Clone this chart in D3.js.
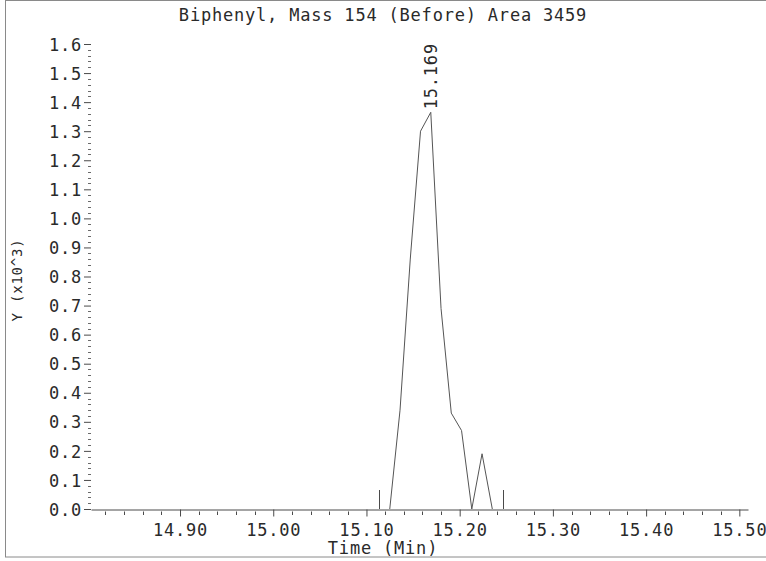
<!DOCTYPE html>
<html>
<head>
<meta charset="utf-8">
<script src="https://cdn.jsdelivr.net/npm/d3@7/dist/d3.min.js"></script>
<style>
  html, body { margin: 0; padding: 0; background: #fff; }
  svg { display: block; }
  text { font-family: "DejaVu Sans Mono", monospace; fill: #2a2a2a; }
</style>
</head>
<body>
<svg id="chart" width="766" height="561"></svg>
<script>
// ---- data ----
const title = "Biphenyl, Mass 154 (Before) Area 3459";
const xLabel = "Time (Min)";
const yLabel = "Y (x10^3)";
const times  = [15.125, 15.136, 15.147, 15.158, 15.169, 15.180, 15.191, 15.202, 15.213, 15.224, 15.235];
const values = [0.00,   0.34,   0.86,   1.30,   1.365,  0.69,   0.33,   0.27,   0.00,   0.19,   0.00];
const peakTime = 15.169;
const peakValue = 1.365;
const peakLabel = "15.169";
const markerTimes = [15.1137, 15.246];
const xTickValues = [14.90, 15.00, 15.10, 15.20, 15.30, 15.40, 15.50];
const xTickLabels = ["14.90", "15.00", "15.10", "15.20", "15.30", "15.40", "15.50"];
const yTickValues = [0.0, 0.1, 0.2, 0.3, 0.4, 0.5, 0.6, 0.7, 0.8, 0.9, 1.0, 1.1, 1.2, 1.3, 1.4, 1.5, 1.6];
const yTickLabels = ["0.0","0.1","0.2","0.3","0.4","0.5","0.6","0.7","0.8","0.9","1.0","1.1","1.2","1.3","1.4","1.5","1.6"];
const xDomain = [14.8045, 15.5093];
const yDomain = [0, 1.6];

// ---- drawing ----
const svg = d3.select("#chart");
const lineColor = "#4a4a4a";

// outer frame
svg.append("rect")
  .attr("x", 5.5).attr("y", 0.5)
  .attr("width", 800).attr("height", 556.5)
  .attr("fill", "none").attr("stroke", "#8a8a8a").attr("stroke-width", 1);

const x = d3.scaleLinear().domain(xDomain).range([91, 748]);
const y = d3.scaleLinear().domain(yDomain).range([509, 44]);

// x minor ticks
const xMinor = d3.range(14.82, 15.501, 0.02).filter(v => Math.abs(Math.round(v * 10) - v * 10) > 1e-6);
svg.append("g").selectAll("line").data(xMinor).join("line")
  .attr("x1", d => Math.round(x(d)) + 0.5).attr("x2", d => Math.round(x(d)) + 0.5)
  .attr("y1", 511.5).attr("y2", 515)
  .attr("stroke", lineColor).attr("stroke-width", 1);

// x axis (major)
const xAxis = d3.axisBottom(x)
  .tickValues(xTickValues)
  .tickFormat((d, i) => xTickLabels[i])
  .tickSize(7).tickSizeOuter(0).tickPadding(8);
const gx = svg.append("g").attr("transform", "translate(0,509.5)").call(xAxis);
gx.select(".domain").attr("stroke", lineColor);
gx.selectAll(".tick line").attr("stroke", lineColor);
gx.selectAll(".tick text")
  .attr("y", 26).attr("dy", null)
  .style("font-size", "17px").style("letter-spacing", "0.8px").attr("fill", "#2a2a2a");

// y minor ticks
const yMinor = d3.range(0.02, 1.6, 0.02).filter(v => Math.abs(Math.round(v * 10) - v * 10) > 1e-6);
svg.append("g").selectAll("line").data(yMinor).join("line")
  .attr("x1", 88).attr("x2", 91)
  .attr("y1", d => Math.round(y(d)) + 0.5).attr("y2", d => Math.round(y(d)) + 0.5)
  .attr("stroke", "#6a6a6a").attr("stroke-width", 1);

// y axis (major)
const yAxis = d3.axisLeft(y)
  .tickValues(yTickValues)
  .tickFormat((d, i) => yTickLabels[i])
  .tickSize(7).tickSizeOuter(0).tickPadding(2);
const gy = svg.append("g").attr("transform", "translate(91,0)").call(yAxis);
gy.select(".domain").remove();
gy.selectAll(".tick line").attr("stroke", lineColor);
gy.selectAll(".tick text")
  .attr("dy", "0.36em")
  .style("font-size", "17px").style("letter-spacing", "0.8px").attr("fill", "#2a2a2a");

// signal line
const line = d3.line().x(d => x(d[0])).y(d => y(d[1]));
svg.append("path")
  .datum(times.map((t, i) => [t, values[i]]))
  .attr("d", line)
  .attr("fill", "none").attr("stroke", "#555").attr("stroke-width", 1);

// integration markers
svg.append("g").selectAll("line").data(markerTimes).join("line")
  .attr("x1", d => Math.round(x(d)) + 0.5).attr("x2", d => Math.round(x(d)) + 0.5)
  .attr("y1", y(0)).attr("y2", y(0) - 19)
  .attr("stroke", lineColor).attr("stroke-width", 1);

// peak label
svg.append("text")
  .attr("transform", `translate(${x(peakTime) + 6},${y(peakValue) - 3}) rotate(-90)`)
  .attr("text-anchor", "start")
  .style("font-size", "17px").style("letter-spacing", "0.8px")
  .text(peakLabel);

// title
svg.append("text")
  .attr("x", 383).attr("y", 21).attr("text-anchor", "middle")
  .style("font-size", "17px").style("letter-spacing", "0.8px")
  .text(title);

// x label
svg.append("text")
  .attr("x", 383).attr("y", 554).attr("text-anchor", "middle")
  .style("font-size", "17px").style("letter-spacing", "0.8px")
  .text(xLabel);

// y label
svg.append("text")
  .attr("transform", "translate(22,280) rotate(-90)")
  .attr("text-anchor", "middle")
  .style("font-size", "14px").style("letter-spacing", "0.8px")
  .text(yLabel);
</script>
</body>
</html>
